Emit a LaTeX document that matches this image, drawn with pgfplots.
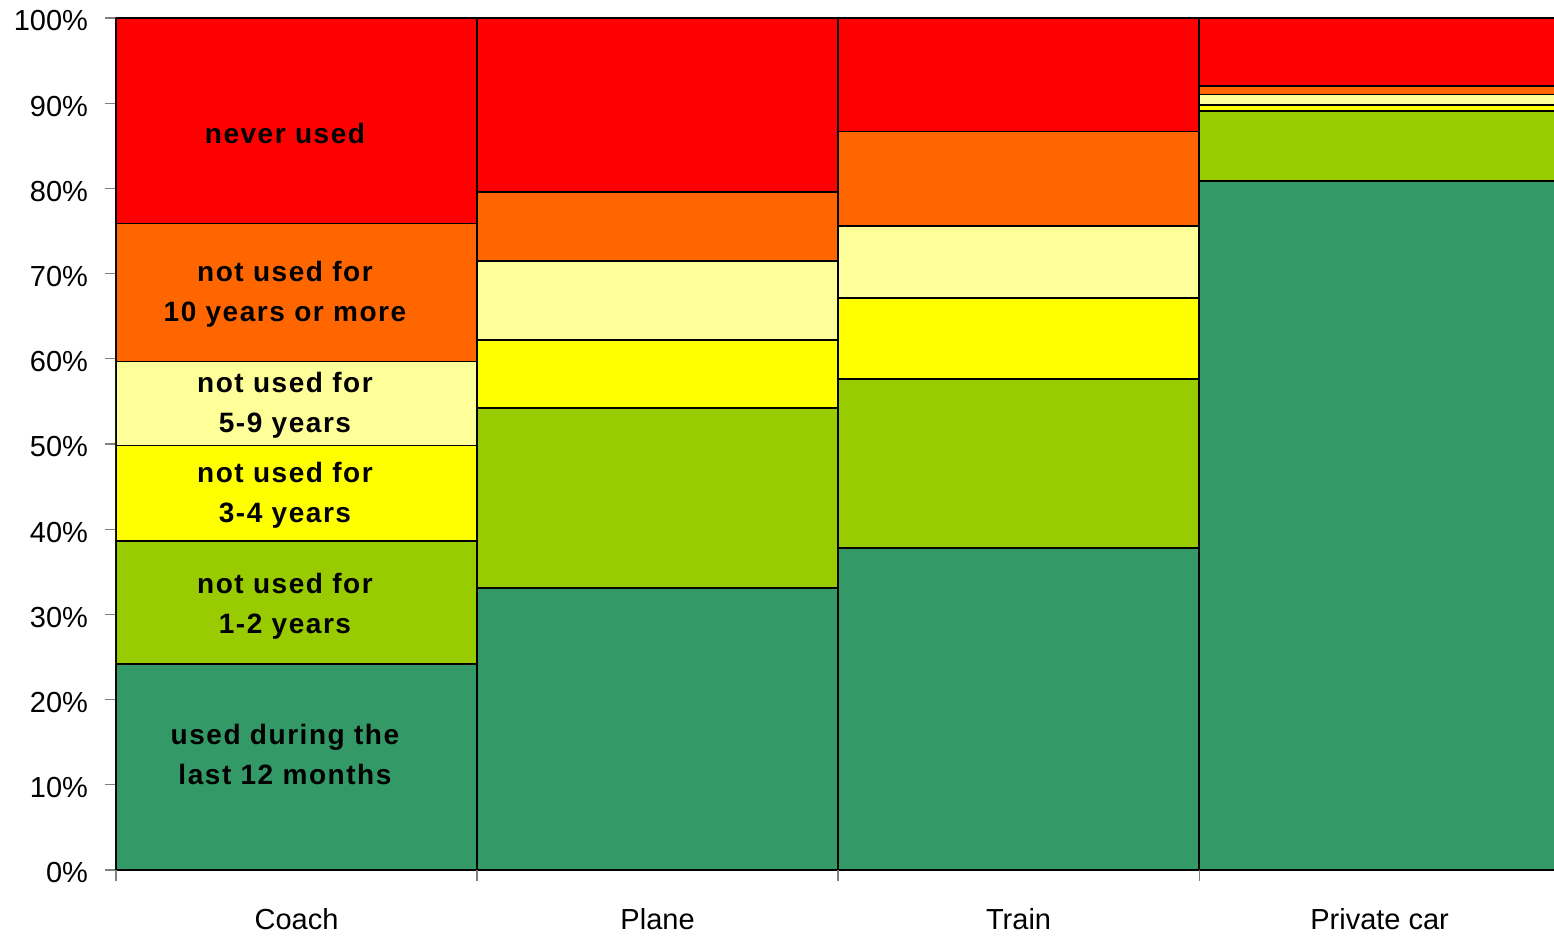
\documentclass[border=0pt]{standalone}
\usepackage{pgfplots}
\pgfplotsset{compat=1.18}
\usepackage{fontspec}
\setmainfont{Liberation Sans}
\newfontfamily\lblfont[LetterSpace=5.5]{Liberation Sans}
\definecolor{cDG}{HTML}{339966}
\definecolor{cLG}{HTML}{99CC00}
\definecolor{cYE}{HTML}{FFFF00}
\definecolor{cLY}{HTML}{FFFF99}
\definecolor{cOR}{HTML}{FF6600}
\definecolor{cRE}{HTML}{FF0000}
\tikzset{lbl/.style={font=\lblfont\fontsize{14}{20}\selectfont\bfseries, align=center}}
\begin{document}
\begin{tikzpicture}
\begin{axis}[
  scale only axis,
  width=719pt, height=426pt,
  xmin=0, xmax=3.983, ymin=0, ymax=100,
  enlargelimits=false,
  ybar stacked, bar width=1,
  axis lines*=left,
  axis line style={black, line width=0.8pt},
  xtick={0.5,1.5,2.5,3.5},
  xticklabels={Coach,Plane,Train,Private car},
  xtick style={draw=none},
  extra x ticks={0,1,2,3},
  extra x tick labels={},
  extra x tick style={xtick style={draw=gray, line width=0.6pt}},
  ytick={0,10,...,100},
  yticklabel={\pgfmathprintnumber{\tick}\%},
  /pgf/number format/assume math mode=true,
  tick align=outside,
  major tick length=5.5pt,
  ytick style={gray, line width=0.6pt},
  ticklabel style={font=\fontsize{14.5}{17}\selectfont},
  xticklabel style={yshift=-10pt},
  yticklabel style={xshift=-5pt, yshift=-1.5pt},
]
\addplot[fill=cDG, draw=black, line width=0.8pt] coordinates {(0.5,24.2) (1.5,33.1) (2.5,37.8) (3.5,80.9)};
\addplot[fill=cLG, draw=black, line width=0.8pt] coordinates {(0.5,14.4) (1.5,21.1) (2.5,19.8) (3.5,8.2)};
\addplot[fill=cYE, draw=black, line width=0.8pt] coordinates {(0.5,11.2) (1.5,8.0) (2.5,9.5) (3.5,0.7)};
\addplot[fill=cLY, draw=black, line width=0.8pt] coordinates {(0.5,9.9) (1.5,9.3) (2.5,8.5) (3.5,1.2)};
\addplot[fill=cOR, draw=black, line width=0.8pt] coordinates {(0.5,16.2) (1.5,8.1) (2.5,11.1) (3.5,1.0)};
\addplot[fill=cRE, draw=black, line width=0.8pt] coordinates {(0.5,24.1) (1.5,20.4) (2.5,13.3) (3.5,8.0)};
\coordinate (l1) at (axis cs:0.468,86.5);
\coordinate (l2) at (axis cs:0.468,67.6);
\coordinate (l3) at (axis cs:0.468,54.5);
\coordinate (l4) at (axis cs:0.468,44.0);
\coordinate (l5) at (axis cs:0.468,31.0);
\coordinate (l6) at (axis cs:0.468,13.5);
\coordinate (sw) at (rel axis cs:0,0);
\coordinate (ne) at (rel axis cs:1,1);
\end{axis}
\node[lbl] at (l1) {never used};
\node[lbl] at (l2) {not used for\\10 years or more};
\node[lbl] at (l3) {not used for\\5-9 years};
\node[lbl] at (l4) {not used for\\3-4 years};
\node[lbl] at (l5) {not used for\\1-2 years};
\node[lbl] at (l6) {used during the\\last 12 months};
\pgfresetboundingbox
\path[use as bounding box] ([shift={(-58pt,-33pt)}]sw) rectangle ([shift={(0pt,9pt)}]ne);
\end{tikzpicture}
\end{document}
